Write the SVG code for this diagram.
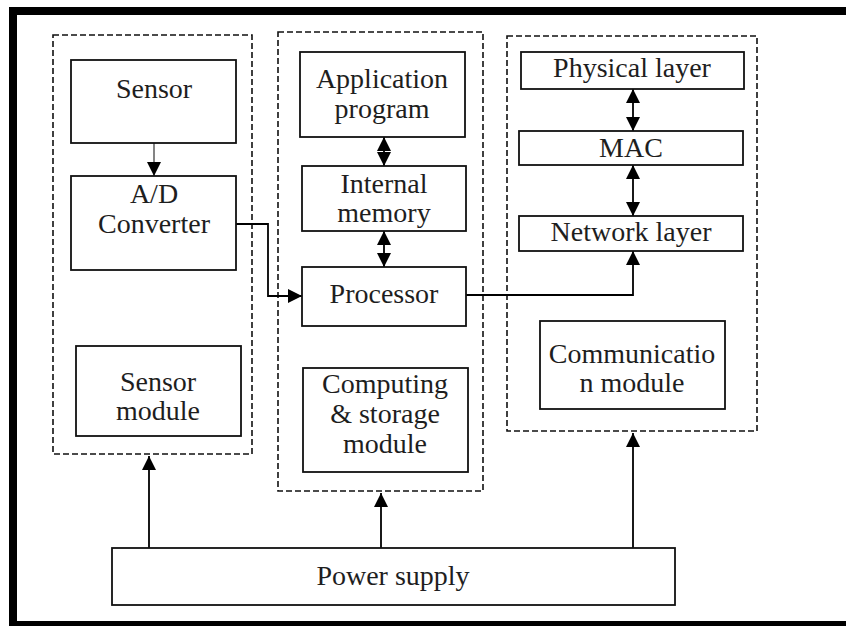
<svg xmlns="http://www.w3.org/2000/svg" width="846" height="626" viewBox="0 0 846 626">
<style>
  .frame { fill: none; stroke: #000; stroke-width: 8; }
  .group { fill: none; stroke: #111; stroke-width: 1.6; stroke-dasharray: 6 3; }
  .box { fill: #fff; stroke: #111; stroke-width: 1.8; }
  .lbl { font-family: 'Liberation Serif', 'DejaVu Serif', serif; font-size: 28px; fill: #1e1e1e; text-anchor: middle; }
  .conn { fill: none; stroke: #000; stroke-width: 1.8; }
  .arrow { marker-end: url(#ah); }
  .dbl { marker-start: url(#ah); marker-end: url(#ah); }
</style>
<defs>
  <marker id="ah" markerUnits="userSpaceOnUse" markerWidth="14" markerHeight="14" refX="14" refY="7" orient="auto-start-reverse" viewBox="0 0 14 14">
    <path d="M0,0 L14,7 L0,14 z" fill="#000"/>
  </marker>
</defs>
<rect width="846" height="626" fill="#fff"/>
<rect class="frame" x="13" y="11" width="860" height="614"/>

<g id="sensor-group"><rect class="group" x="53" y="35" width="199" height="419"/></g>
<g id="computing-group"><rect class="group" x="278" y="32" width="205" height="459"/></g>
<g id="comm-group"><rect class="group" x="507" y="36" width="250" height="395"/></g>

<g id="connectors">
  <line x1="154" y1="143" x2="154" y2="176" class="conn arrow" style="stroke:#777"/>
  <polyline points="236,224 268,224 268,296 302,296" class="conn arrow"/>
  <line x1="384" y1="137" x2="384" y2="166" class="conn dbl"/>
  <line x1="384" y1="231" x2="384" y2="267" class="conn dbl"/>
  <polyline points="466,295 633,295 633,251" class="conn arrow"/>
  <line x1="633" y1="89" x2="633" y2="131" class="conn dbl"/>
  <line x1="633" y1="165" x2="633" y2="216" class="conn dbl"/>
  <line x1="149" y1="548" x2="149" y2="456" class="conn arrow"/>
  <line x1="381" y1="548" x2="381" y2="493" class="conn arrow"/>
  <line x1="633" y1="548" x2="633" y2="433" class="conn arrow"/>
</g>

<g id="sensor"><rect class="box" x="71" y="60" width="165" height="83"/><text class="lbl" x="154" y="98">Sensor</text></g>
<g id="ad-converter"><rect class="box" x="71" y="176" width="165" height="94"/><text class="lbl" x="154" y="203">A/D</text><text class="lbl" x="154" y="233">Converter</text></g>
<g id="sensor-module"><rect class="box" x="76" y="346" width="165" height="90"/><text class="lbl" x="158" y="391">Sensor</text><text class="lbl" x="158" y="420">module</text></g>

<g id="application-program"><rect class="box" x="300" y="52" width="165" height="85"/><text class="lbl" x="382" y="88">Application</text><text class="lbl" x="382" y="118">program</text></g>
<g id="internal-memory"><rect class="box" x="302" y="166" width="164" height="65"/><text class="lbl" x="384" y="193">Internal</text><text class="lbl" x="384" y="222">memory</text></g>
<g id="processor"><rect class="box" x="302" y="267" width="164" height="59"/><text class="lbl" x="384" y="303">Processor</text></g>
<g id="computing-storage-module"><rect class="box" x="303" y="368" width="165" height="104"/><text class="lbl" x="385" y="393">Computing</text><text class="lbl" x="385" y="423">&amp; storage</text><text class="lbl" x="385" y="453">module</text></g>

<g id="physical-layer"><rect class="box" x="521" y="52" width="223" height="37"/><text class="lbl" x="632" y="77">Physical layer</text></g>
<g id="mac"><rect class="box" x="519" y="131" width="224" height="34"/><text class="lbl" x="631" y="157">MAC</text></g>
<g id="network-layer"><rect class="box" x="519" y="216" width="224" height="35"/><text class="lbl" x="631" y="241">Network layer</text></g>
<g id="communication-module"><rect class="box" x="540" y="321" width="185" height="88"/><text class="lbl" x="632" y="363">Communicatio</text><text class="lbl" x="632" y="392">n module</text></g>

<g id="power-supply"><rect class="box" x="112" y="548" width="563" height="57"/><text class="lbl" x="393" y="585">Power supply</text></g>
</svg>
